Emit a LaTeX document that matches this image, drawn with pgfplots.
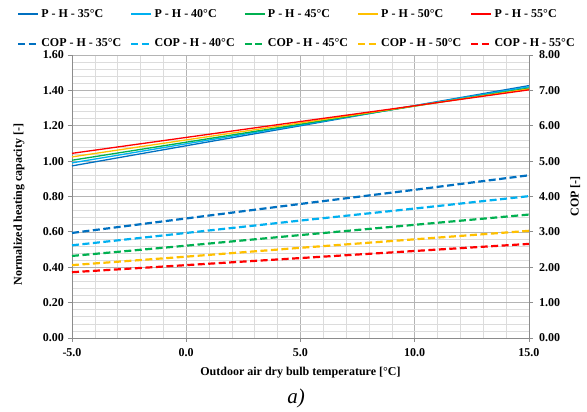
\documentclass[border=0pt]{standalone}
\usepackage{fontspec}
\setmainfont{Liberation Serif}
\usepackage{pgfplots}
\pgfplotsset{compat=1.18}
\definecolor{cA}{HTML}{0070C0}
\definecolor{cB}{HTML}{00B0F0}
\definecolor{cC}{HTML}{00B050}
\definecolor{cD}{HTML}{FFC000}
\definecolor{cE}{HTML}{FF0000}
\definecolor{majg}{HTML}{B4B4B4}
\definecolor{ming}{HTML}{DCDCDC}
\definecolor{axg}{HTML}{8C8C8C}
\pgfplotsset{
  Pline/.style={line width=1.3pt},
  Cline/.style={line width=2.2pt, dash pattern=on 7pt off 3.5pt},
}
\begin{document}
\fontsize{12pt}{14pt}\selectfont
\begin{tikzpicture}
\useasboundingbox (-72pt,-74pt) rectangle (515pt,338pt);
\begin{axis}[
  scale only axis, width=457pt, height=283pt,
  xmin=-5, xmax=15, ymin=0, ymax=1.6,
  xtick={-5,0,5,10,15}, ytick={0,0.2,...,1.6},
  minor x tick num=4, minor y tick num=4,
  grid=both,
  major grid style={majg, line width=0.6pt},
  minor grid style={ming, line width=0.6pt},
  axis x line*=bottom, axis y line*=left,
  axis line style={axg, line width=0.8pt},
  tick align=outside, major tick length=4pt, minor tick length=0pt,
  tick style={axg, line width=0.8pt},
  ticklabel style={font=\bfseries},
  /pgf/number format/assume math mode=true,
  xticklabel style={yshift=-2pt, /pgf/number format/.cd, fixed, fixed zerofill, precision=1},
  yticklabel style={/pgf/number format/.cd, fixed, fixed zerofill, precision=2},
  xlabel={\bfseries Outdoor air dry bulb temperature [°C]},
  ylabel={\bfseries Normalized heating capacity [-]},
  xlabel style={yshift=-3pt},
  ylabel style={yshift=10pt, xshift=-8pt},
  legend columns=5,
  legend cell align=left,
  legend style={draw=none, fill=none, font=\bfseries, at={(0.491,1.092)}, anchor=center,
    row sep=20pt,
    nodes={inner xsep=1pt, inner ysep=0pt},
    /tikz/every even column/.append style={column sep=8pt},
    /tikz/every odd column/.append style={column sep=1pt}},
  legend image code/.code={\draw[#1] (0pt,0pt) -- (20pt,0pt);},
]
\addlegendimage{Pline, cA}\addlegendentry{P - H - 35°C}
\addlegendimage{Pline, cB}\addlegendentry{P - H - 40°C}
\addlegendimage{Pline, cC}\addlegendentry{P - H - 45°C}
\addlegendimage{Pline, cD}\addlegendentry{P - H - 50°C}
\addlegendimage{Pline, cE}\addlegendentry{P - H - 55°C}
\addlegendimage{Cline, cA}\addlegendentry{COP - H - 35°C}
\addlegendimage{Cline, cB}\addlegendentry{COP - H - 40°C}
\addlegendimage{Cline, cC}\addlegendentry{COP - H - 45°C}
\addlegendimage{Cline, cD}\addlegendentry{COP - H - 50°C}
\addlegendimage{Cline, cE}\addlegendentry{COP - H - 55°C}
\addplot[Pline, cA, forget plot] coordinates {(-5,0.973) (0,1.087) (5,1.200) (10,1.314) (15,1.427)};
\addplot[Pline, cB, forget plot] coordinates {(-5,0.990) (0,1.098) (5,1.205) (10,1.313) (15,1.420)};
\addplot[Pline, cC, forget plot] coordinates {(-5,1.005) (0,1.107) (5,1.209) (10,1.311) (15,1.413)};
\addplot[Pline, cD, forget plot] coordinates {(-5,1.024) (0,1.120) (5,1.216) (10,1.312) (15,1.408)};
\addplot[Pline, cE, forget plot] coordinates {(-5,1.044) (0,1.134) (5,1.224) (10,1.313) (15,1.403)};
\end{axis}
\begin{axis}[
  scale only axis, width=457pt, height=283pt,
  xmin=-5, xmax=15, ymin=0, ymax=8,
  ytick={0,1,...,8},
  axis x line=none, axis y line*=right,
  axis line style={axg, line width=0.8pt},
  tick align=outside, major tick length=4pt,
  tick style={axg, line width=0.8pt},
  ticklabel style={font=\bfseries},
  /pgf/number format/assume math mode=true,
  yticklabel style={xshift=2pt, /pgf/number format/.cd, fixed, fixed zerofill, precision=2},
  ylabel={\bfseries COP [-]},
  ylabel style={yshift=-2pt},
]
\addplot[Cline, cA] coordinates {(-5,2.97) (0,3.38) (5,3.79) (10,4.19) (15,4.60)};
\addplot[Cline, cB] coordinates {(-5,2.62) (0,2.97) (5,3.32) (10,3.66) (15,4.01)};
\addplot[Cline, cC] coordinates {(-5,2.32) (0,2.61) (5,2.91) (10,3.20) (15,3.49)};
\addplot[Cline, cD] coordinates {(-5,2.06) (0,2.30) (5,2.55) (10,2.79) (15,3.03)};
\addplot[Cline, cE] coordinates {(-5,1.86) (0,2.06) (5,2.26) (10,2.46) (15,2.66)};
\end{axis}
\node[font=\fontsize{21pt}{24pt}\selectfont\itshape] at (224pt,-60pt) {a)};
\end{tikzpicture}
\end{document}
